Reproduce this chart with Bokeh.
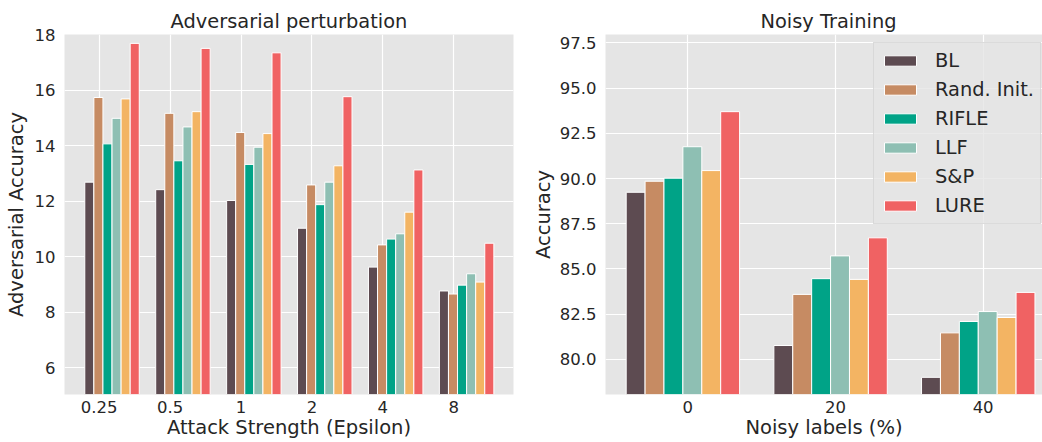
from bokeh.plotting import figure
from bokeh.layouts import row
from bokeh.models import Range1d, FixedTicker, ColumnDataSource, Legend, LegendItem, PrintfTickFormatter
from bokeh.embed import file_html
from bokeh.resources import INLINE

# ---------------- data ----------------
methods = ["BL", "Rand. Init.", "RIFLE", "LLF", "S&P", "LURE"]
colors = ["#5d4b51", "#c68b63", "#00a387", "#8ebfb3", "#f3b463", "#f06263"]

eps_labels = ["0.25", "0.5", "1", "2", "4", "8"]
adv_bl = [12.68, 12.41, 12.02, 11.02, 9.62, 8.76]
adv_rand = [15.73, 15.16, 14.47, 12.58, 10.42, 8.65]
adv_rifle = [14.06, 13.45, 13.32, 11.87, 10.63, 8.97]
adv_llf = [14.98, 14.67, 13.94, 12.68, 10.82, 9.38]
adv_sp = [15.68, 15.22, 14.43, 13.27, 11.60, 9.08]
adv_lure = [17.68, 17.50, 17.34, 15.76, 13.12, 10.48]
adv_yticks = [6, 8, 10, 12, 14, 16, 18]

noise_labels = ["0", "20", "40"]
noisy_bl = [89.24, 80.76, 79.00]
noisy_rand = [89.85, 83.59, 81.46]
noisy_rifle = [90.02, 84.46, 82.09]
noisy_llf = [91.76, 85.72, 82.64]
noisy_sp = [90.44, 84.42, 82.31]
noisy_lure = [93.70, 86.72, 83.70]
noisy_yticks = [80.0, 82.5, 85.0, 87.5, 90.0, 92.5, 95.0, 97.5]

adv_series = [adv_bl, adv_rand, adv_rifle, adv_llf, adv_sp, adv_lure]
noisy_series = [noisy_bl, noisy_rand, noisy_rifle, noisy_llf, noisy_sp, noisy_lure]

# ---------------- style ----------------
FONT = "DejaVu Sans"
TEXT = "#262626"
BAR_W = 0.128


def style(p):
    p.background_fill_color = "#e5e5e5"
    p.border_fill_color = "white"
    p.outline_line_color = None
    p.grid.grid_line_color = "white"
    p.grid.grid_line_width = 1.2
    p.title.text_font = FONT
    p.title.text_font_size = "19.4px"
    p.title.text_font_style = "normal"
    p.title.text_color = TEXT
    p.title.align = "center"
    p.title.standoff = 3
    for ax in p.axis:
        ax.axis_line_color = None
        ax.major_tick_line_color = None
        ax.minor_tick_line_color = None
        ax.major_tick_out = 0
        ax.major_tick_in = 0
        ax.minor_tick_out = 0
        ax.minor_tick_in = 0
        ax.major_label_text_font = FONT
        ax.major_label_text_font_size = "16.5px"
        ax.major_label_text_color = TEXT
        ax.axis_label_text_font = FONT
        ax.axis_label_text_font_size = "19.5px"
        ax.axis_label_text_font_style = "normal"
        ax.axis_label_text_color = TEXT
    p.xaxis.major_label_standoff = 6
    p.xaxis.axis_label_standoff = 0
    p.yaxis.major_label_standoff = 9


def add_bars(p, n, series, start_offset):
    renderers = []
    for j, (vals, c) in enumerate(zip(series, colors)):
        xs = [i + start_offset + (j + 0.5) * BAR_W for i in range(n)]
        src = ColumnDataSource(dict(x=xs, top=vals))
        r = p.vbar(x="x", top="top", bottom=0, width=BAR_W, source=src,
                   fill_color=c, line_color="white", line_width=1)
        renderers.append(r)
    return renderers


# ---------------- left: adversarial ----------------
p1 = figure(width=520, height=442, output_backend="svg", toolbar_location=None,
            x_range=Range1d(-0.489, 5.842), y_range=Range1d(5.03, 18.0),
            title="Adversarial perturbation",
            min_border_left=64, min_border_right=7, min_border_top=34, min_border_bottom=48)
style(p1)
p1.yaxis.axis_label_standoff = 4
add_bars(p1, len(eps_labels), adv_series, -0.203)
p1.xaxis.ticker = FixedTicker(ticks=list(range(len(eps_labels))))
p1.xaxis.major_label_overrides = {i: lab for i, lab in enumerate(eps_labels)}
p1.yaxis.ticker = FixedTicker(ticks=adv_yticks)
p1.xaxis.axis_label = "Attack Strength (Epsilon)"
p1.yaxis.axis_label = "Adversarial Accuracy"

# ---------------- right: noisy training ----------------
p2 = figure(width=522, height=442, output_backend="svg", toolbar_location=None,
            x_range=Range1d(-0.557, 2.402), y_range=Range1d(78.05, 97.97),
            title="Noisy Training",
            min_border_left=85, min_border_right=0, min_border_top=34, min_border_bottom=48)
style(p2)
p2.yaxis.axis_label_standoff = 2
p2.title.align = "left"
p2.title.offset = 155
rs = add_bars(p2, len(noise_labels), noisy_series, -0.417)
p2.xaxis.ticker = FixedTicker(ticks=list(range(len(noise_labels))))
p2.xaxis.major_label_overrides = {i: lab for i, lab in enumerate(noise_labels)}
p2.yaxis.ticker = FixedTicker(ticks=noisy_yticks)
p2.yaxis.formatter = PrintfTickFormatter(format="%.1f")
p2.xaxis.axis_label = "Noisy labels (%)"
p2.yaxis.axis_label = "Accuracy"

legend = Legend(items=[LegendItem(label=m, renderers=[r]) for m, r in zip(methods, rs)],
                location=(268, 170))
legend.label_text_font = FONT
legend.label_text_font_size = "19.4px"
legend.label_text_color = TEXT
legend.glyph_width = 40
legend.glyph_height = 13
legend.label_height = 13
legend.label_standoff = 15
legend.spacing = 6
legend.padding = 6
legend.margin = 0
legend.background_fill_color = "#e5e5e5"
legend.background_fill_alpha = 0.8
legend.border_line_color = "#cccccc"
legend.border_line_width = 1
p2.add_layout(legend)

layout = row(p1, p2)
open("out.html", "w").write(file_html(layout, INLINE))
